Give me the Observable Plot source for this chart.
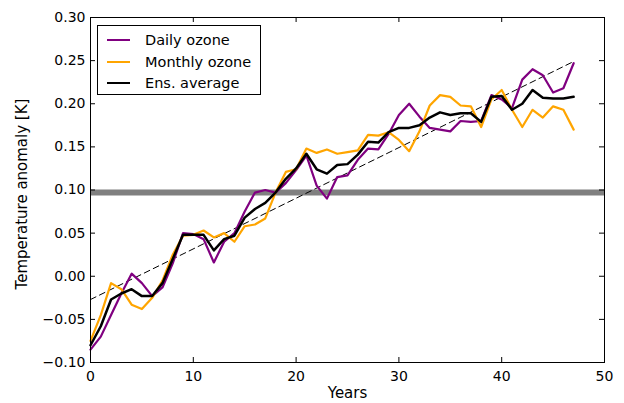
<!DOCTYPE html>
<html>
<head>
<meta charset="utf-8">
<script src="https://cdn.jsdelivr.net/npm/d3@7"></script>
<script src="https://cdn.jsdelivr.net/npm/@observablehq/plot@0.6"></script>
<style>
  body { margin: 0; background: #fff; }
  #wrap { position: relative; width: 624px; height: 403px; font-family: "DejaVu Sans", sans-serif; }
  #legend { position: absolute; left: 97px; top: 25px; width: 164px; height: 70px; border: 1px solid #000; background: #fff; box-sizing: border-box; font-size: 14.5px; }
  .row { position: absolute; left: 0; height: 20px; display: flex; align-items: center; }
  .sw { width: 23px; height: 0; border-top-width: 2.5px; border-top-style: solid; margin-left: 9px; margin-right: 15px; }
</style>
</head>
<body>
<div id="wrap"></div>
<script>
const years = d3.range(0, 48);
const dailyOzone = [-0.085,-0.070,-0.045,-0.020,0.003,-0.008,-0.023,-0.013,0.015,0.050,0.049,0.043,0.016,0.040,0.050,0.075,0.097,0.100,0.097,0.108,0.123,0.140,0.105,0.090,0.115,0.117,0.135,0.148,0.147,0.165,0.187,0.200,0.185,0.172,0.170,0.168,0.180,0.179,0.180,0.210,0.205,0.195,0.228,0.240,0.233,0.213,0.218,0.247];
const monthlyOzone = [-0.075,-0.045,-0.008,-0.015,-0.033,-0.038,-0.025,-0.005,0.025,0.047,0.048,0.053,0.045,0.050,0.040,0.058,0.060,0.067,0.097,0.121,0.124,0.148,0.143,0.147,0.142,0.144,0.146,0.164,0.163,0.167,0.158,0.145,0.168,0.198,0.210,0.208,0.198,0.197,0.173,0.205,0.216,0.193,0.173,0.193,0.184,0.197,0.193,0.170];
const ensAverage = [-0.080,-0.058,-0.027,-0.020,-0.015,-0.023,-0.023,-0.008,0.020,0.048,0.048,0.048,0.030,0.043,0.047,0.068,0.078,0.085,0.097,0.113,0.125,0.142,0.124,0.119,0.129,0.130,0.141,0.156,0.155,0.167,0.172,0.172,0.175,0.184,0.190,0.187,0.189,0.189,0.179,0.208,0.209,0.193,0.200,0.216,0.207,0.206,0.206,0.208];
const trendX = [0, 47];
const trendY = [-0.027, 0.249];
const referenceLevel = [0.097];
const xTicks = [0, 10, 20, 30, 40, 50];
const yTicks = [-0.10, -0.05, 0.00, 0.05, 0.10, 0.15, 0.20, 0.25, 0.30];
const seriesNames = ["Daily ozone", "Monthly ozone", "Ens. average"];
const seriesColors = ["#800080", "orange", "#000000"];

const fmtY = d => d.toFixed(2).replace("-", "\u2212");
const trend = trendX.map((x, i) => ({x, y: trendY[i]}));

const plot = Plot.plot({
  width: 624,
  height: 403,
  marginLeft: 90,
  marginRight: 20,
  marginTop: 17,
  marginBottom: 41,
  style: {fontFamily: "DejaVu Sans, sans-serif", fontSize: "14px", color: "#000", background: "#fff"},
  x: {domain: [0, 50]},
  y: {domain: [-0.10, 0.30]},
  marks: [
    Plot.ruleY(referenceLevel, {stroke: "#808080", strokeWidth: 6}),
    Plot.line(trend, {x: "x", y: "y", stroke: "#000", strokeWidth: 1, strokeDasharray: "6,4"}),
    Plot.line(years, {x: d => d, y: (d, i) => dailyOzone[i], stroke: seriesColors[0], strokeWidth: 2.2}),
    Plot.line(years, {x: d => d, y: (d, i) => monthlyOzone[i], stroke: seriesColors[1], strokeWidth: 2.2}),
    Plot.line(years, {x: d => d, y: (d, i) => ensAverage[i], stroke: seriesColors[2], strokeWidth: 2.5}),
    Plot.axisX(xTicks, {anchor: "bottom", tickSize: 0, tickPadding: 9, label: null, fontSize: 14}),
    Plot.axisY(yTicks, {anchor: "left", tickSize: 0, tickPadding: 5, tickFormat: fmtY, label: null, fontSize: 14}),
    Plot.tickX(xTicks, {x: d => d, stroke: "#000", insetTop: 403 - 17 - 41 - 5}),
    Plot.tickX(xTicks, {x: d => d, stroke: "#000", insetBottom: 403 - 17 - 41 - 5}),
    Plot.tickY(yTicks, {y: d => d, stroke: "#000", insetRight: 624 - 90 - 20 - 5}),
    Plot.tickY(yTicks, {y: d => d, stroke: "#000", insetLeft: 624 - 90 - 20 - 5}),
    Plot.frame({stroke: "#000", strokeWidth: 1}),
    Plot.text(["Years"], {frameAnchor: "bottom", dy: 35, fontSize: 15}),
    Plot.text(["Temperature anomaly [K]"], {frameAnchor: "left", textAnchor: "middle", rotate: -90, dx: -68, dy: 4, fontSize: 15})
  ]
});

const wrap = document.getElementById("wrap");
wrap.appendChild(plot);
const legend = document.createElement("div");
legend.id = "legend";
seriesNames.forEach((name, i) => {
  const row = document.createElement("div");
  row.className = "row";
  row.style.top = (4 + i * 21.5) + "px";
  const sw = document.createElement("span");
  sw.className = "sw";
  sw.style.borderTopColor = seriesColors[i];
  const t = document.createElement("span");
  t.textContent = name;
  row.appendChild(sw);
  row.appendChild(t);
  legend.appendChild(row);
});
wrap.appendChild(legend);
</script>
</body>
</html>
